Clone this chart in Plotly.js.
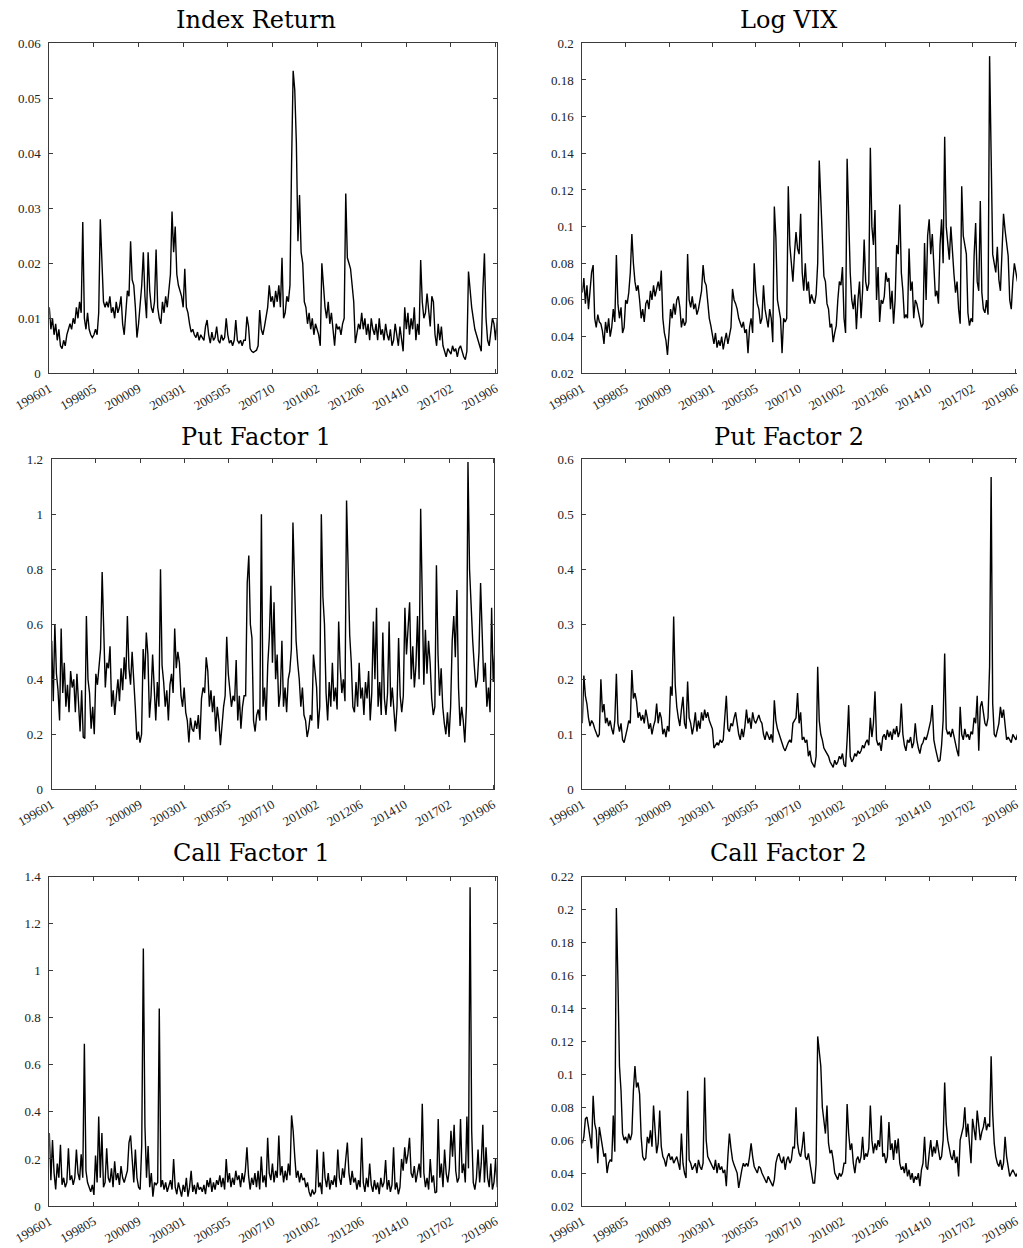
<!DOCTYPE html>
<html>
<head>
<meta charset="utf-8">
<script src="https://cdn.plot.ly/plotly-3.0.1.min.js"></script>
<style>
html, body { margin: 0; padding: 0; overflow: hidden; background: #fff; }
#chart { width: 1023px; height: 1248px; }
</style>
</head>
<body>
<div id="chart"></div>
<script>
// x axis: monthly observation index, 0 = 199601
const xTickVals = [0, 28, 56, 84, 112, 140, 168, 196, 224, 252, 280];
const xTickText = ["199601", "199805", "200009", "200301", "200505", "200710", "201002", "201206", "201410", "201702", "201906"];

const titles = ["Index Return", "Log VIX", "Put Factor 1", "Put Factor 2", "Call Factor 1", "Call Factor 2"];

// monthly values 1996-01 ... 2019-06 (one row per year)
const indexReturn = [
0.012,0.008,0.010,0.007,0.009,0.006,0.008,0.005,0.0045,0.006,0.005,0.007,
0.008,0.009,0.008,0.010,0.009,0.012,0.010,0.013,0.011,0.0275,0.010,0.008,
0.011,0.008,0.007,0.0065,0.007,0.008,0.007,0.011,0.028,0.021,0.013,0.012,
0.013,0.012,0.014,0.011,0.012,0.010,0.013,0.011,0.012,0.014,0.009,0.007,
0.011,0.015,0.014,0.024,0.017,0.016,0.012,0.0065,0.009,0.013,0.016,0.022,
0.014,0.010,0.022,0.015,0.012,0.011,0.013,0.0225,0.012,0.010,0.009,0.013,
0.011,0.014,0.012,0.015,0.018,0.0294,0.022,0.0267,0.018,0.016,0.015,0.014,
0.012,0.019,0.012,0.011,0.009,0.0075,0.008,0.007,0.0065,0.0075,0.006,0.007,
0.0065,0.006,0.0085,0.0097,0.007,0.0055,0.0075,0.006,0.0065,0.0085,0.006,0.0055,
0.007,0.006,0.0065,0.0100,0.007,0.0055,0.006,0.005,0.006,0.0097,0.006,0.0055,
0.006,0.005,0.006,0.006,0.0103,0.0085,0.0045,0.004,0.0038,0.004,0.0042,0.005,
0.0115,0.008,0.007,0.0085,0.010,0.012,0.016,0.013,0.014,0.012,0.015,0.013,
0.016,0.012,0.021,0.010,0.011,0.014,0.013,0.016,0.038,0.055,0.0515,0.042,
0.024,0.0324,0.022,0.020,0.013,0.012,0.009,0.011,0.008,0.010,0.007,0.009,
0.008,0.007,0.005,0.020,0.016,0.012,0.010,0.013,0.009,0.011,0.008,0.005,
0.009,0.008,0.0085,0.007,0.009,0.010,0.0327,0.021,0.020,0.019,0.016,0.013,
0.0055,0.007,0.009,0.008,0.011,0.008,0.010,0.007,0.009,0.006,0.010,0.008,
0.007,0.009,0.006,0.010,0.007,0.008,0.006,0.009,0.007,0.006,0.008,0.005,
0.006,0.009,0.007,0.005,0.0085,0.006,0.004,0.012,0.008,0.011,0.007,0.010,
0.008,0.012,0.006,0.009,0.007,0.0206,0.013,0.010,0.011,0.0145,0.012,0.0085,
0.014,0.013,0.007,0.005,0.009,0.006,0.0085,0.005,0.004,0.003,0.0045,0.004,
0.0035,0.005,0.004,0.0045,0.003,0.0045,0.005,0.004,0.003,0.0025,0.004,0.0185,
0.015,0.012,0.010,0.008,0.007,0.006,0.005,0.004,0.015,0.0218,0.010,0.006,
0.005,0.008,0.010,0.009,0.006,0.010
];

const logVix = [
0.064,0.072,0.058,0.068,0.055,0.065,0.075,0.079,0.050,0.045,0.052,0.048,
0.047,0.043,0.036,0.048,0.042,0.050,0.040,0.045,0.055,0.048,0.0845,0.058,
0.050,0.056,0.042,0.045,0.060,0.058,0.064,0.075,0.096,0.080,0.070,0.065,
0.068,0.060,0.050,0.055,0.048,0.058,0.060,0.055,0.065,0.060,0.068,0.062,
0.066,0.070,0.065,0.076,0.050,0.042,0.038,0.030,0.042,0.055,0.050,0.058,
0.052,0.060,0.062,0.056,0.045,0.050,0.046,0.048,0.085,0.060,0.056,0.062,
0.055,0.058,0.052,0.055,0.060,0.065,0.079,0.070,0.068,0.060,0.050,0.046,
0.040,0.036,0.042,0.034,0.038,0.035,0.040,0.033,0.038,0.042,0.036,0.040,
0.045,0.066,0.060,0.058,0.055,0.050,0.047,0.045,0.048,0.042,0.044,0.031,
0.045,0.050,0.042,0.080,0.065,0.058,0.055,0.047,0.050,0.068,0.055,0.050,
0.045,0.055,0.050,0.037,0.111,0.094,0.060,0.055,0.050,0.031,0.050,0.048,
0.050,0.122,0.090,0.080,0.070,0.085,0.097,0.088,0.085,0.107,0.075,0.065,
0.080,0.065,0.070,0.058,0.063,0.060,0.058,0.063,0.080,0.136,0.115,0.090,
0.073,0.070,0.058,0.055,0.045,0.047,0.037,0.042,0.046,0.060,0.070,0.068,
0.078,0.050,0.042,0.137,0.100,0.075,0.060,0.055,0.063,0.044,0.060,0.070,
0.050,0.065,0.093,0.070,0.065,0.069,0.143,0.100,0.090,0.109,0.060,0.078,
0.048,0.060,0.058,0.062,0.075,0.070,0.072,0.055,0.065,0.047,0.060,0.090,
0.085,0.112,0.075,0.065,0.050,0.052,0.050,0.088,0.065,0.070,0.050,0.060,
0.058,0.053,0.050,0.045,0.047,0.091,0.060,0.095,0.104,0.085,0.096,0.075,
0.062,0.065,0.058,0.090,0.104,0.080,0.149,0.100,0.090,0.082,0.100,0.085,
0.074,0.064,0.070,0.055,0.047,0.122,0.095,0.090,0.085,0.053,0.046,0.050,
0.048,0.084,0.102,0.070,0.065,0.114,0.064,0.055,0.053,0.060,0.052,0.193,
0.129,0.085,0.080,0.075,0.089,0.071,0.065,0.085,0.107,0.098,0.090,0.084,
0.060,0.055,0.070,0.080,0.075,0.070
];

const putFactor1 = [
0.54,0.32,0.60,0.42,0.36,0.25,0.585,0.35,0.46,0.30,0.38,0.28,
0.43,0.37,0.40,0.28,0.42,0.30,0.21,0.36,0.19,0.185,0.63,0.40,
0.35,0.22,0.30,0.20,0.42,0.38,0.46,0.51,0.79,0.55,0.37,0.46,
0.44,0.52,0.30,0.36,0.27,0.34,0.40,0.32,0.44,0.36,0.48,0.40,
0.63,0.44,0.38,0.50,0.37,0.30,0.18,0.21,0.17,0.20,0.51,0.40,
0.57,0.49,0.26,0.34,0.49,0.38,0.25,0.39,0.30,0.80,0.45,0.39,
0.30,0.36,0.25,0.38,0.42,0.35,0.585,0.44,0.50,0.46,0.34,0.30,
0.37,0.28,0.25,0.17,0.26,0.22,0.21,0.25,0.22,0.27,0.18,0.33,
0.37,0.35,0.48,0.43,0.30,0.36,0.28,0.34,0.21,0.30,0.25,0.16,
0.25,0.30,0.34,0.555,0.42,0.37,0.30,0.34,0.32,0.47,0.25,0.34,
0.22,0.30,0.34,0.34,0.75,0.85,0.60,0.55,0.25,0.21,0.27,0.29,
0.25,1.00,0.30,0.37,0.25,0.45,0.55,0.74,0.46,0.68,0.40,0.49,
0.30,0.35,0.54,0.30,0.37,0.28,0.40,0.43,0.51,0.97,0.75,0.54,
0.46,0.40,0.30,0.37,0.27,0.25,0.19,0.22,0.27,0.25,0.49,0.42,
0.37,0.22,0.30,1.00,0.70,0.60,0.35,0.25,0.39,0.30,0.46,0.32,
0.37,0.29,0.61,0.44,0.35,0.40,0.32,1.05,0.73,0.56,0.46,0.30,
0.28,0.39,0.30,0.46,0.33,0.37,0.27,0.39,0.33,0.43,0.25,0.35,
0.61,0.40,0.66,0.30,0.39,0.27,0.57,0.33,0.27,0.35,0.61,0.30,
0.37,0.27,0.21,0.30,0.55,0.34,0.28,0.34,0.66,0.49,0.61,0.68,
0.40,0.52,0.37,0.45,0.63,0.40,1.02,0.66,0.38,0.58,0.42,0.54,
0.46,0.33,0.27,0.30,0.815,0.49,0.34,0.44,0.30,0.24,0.20,0.28,
0.19,0.30,0.54,0.63,0.48,0.725,0.37,0.23,0.30,0.25,0.17,0.30,
1.19,0.80,0.63,0.54,0.45,0.37,0.40,0.50,0.75,0.55,0.39,0.46,
0.30,0.37,0.28,0.66,0.39,0.50
];

const putFactor2 = [
0.12,0.207,0.17,0.155,0.13,0.115,0.125,0.12,0.11,0.10,0.095,0.10,
0.20,0.14,0.155,0.12,0.13,0.115,0.125,0.11,0.10,0.125,0.21,0.12,
0.105,0.12,0.09,0.085,0.095,0.11,0.125,0.12,0.217,0.165,0.175,0.16,
0.13,0.14,0.125,0.135,0.12,0.145,0.13,0.11,0.12,0.10,0.115,0.125,
0.156,0.12,0.14,0.13,0.10,0.11,0.095,0.115,0.105,0.187,0.17,0.314,
0.19,0.15,0.13,0.115,0.145,0.168,0.12,0.11,0.196,0.13,0.12,0.10,
0.115,0.14,0.105,0.125,0.11,0.14,0.125,0.145,0.13,0.14,0.125,0.115,
0.11,0.075,0.08,0.085,0.08,0.09,0.085,0.09,0.13,0.17,0.11,0.105,
0.12,0.115,0.13,0.14,0.12,0.10,0.09,0.11,0.095,0.115,0.145,0.12,
0.13,0.11,0.14,0.125,0.12,0.13,0.135,0.125,0.12,0.10,0.09,0.105,
0.095,0.09,0.10,0.085,0.162,0.125,0.11,0.10,0.09,0.08,0.075,0.07,
0.08,0.085,0.09,0.085,0.12,0.125,0.13,0.175,0.12,0.14,0.09,0.095,
0.085,0.09,0.06,0.07,0.05,0.045,0.04,0.06,0.223,0.125,0.10,0.09,
0.075,0.07,0.065,0.06,0.05,0.045,0.04,0.053,0.045,0.05,0.06,0.055,
0.065,0.045,0.041,0.09,0.153,0.06,0.05,0.055,0.065,0.06,0.07,0.065,
0.07,0.08,0.075,0.085,0.09,0.08,0.13,0.095,0.12,0.178,0.09,0.08,
0.085,0.07,0.095,0.10,0.09,0.108,0.095,0.105,0.09,0.11,0.10,0.115,
0.095,0.105,0.156,0.10,0.08,0.07,0.09,0.085,0.095,0.075,0.085,0.12,
0.09,0.075,0.065,0.08,0.085,0.095,0.09,0.10,0.115,0.125,0.153,0.09,
0.075,0.06,0.05,0.053,0.08,0.125,0.247,0.11,0.10,0.105,0.095,0.11,
0.095,0.08,0.07,0.06,0.15,0.10,0.09,0.11,0.095,0.10,0.09,0.105,
0.10,0.13,0.12,0.17,0.07,0.15,0.16,0.14,0.12,0.115,0.13,0.223,
0.568,0.156,0.10,0.095,0.105,0.12,0.15,0.13,0.145,0.115,0.09,0.095,
0.09,0.085,0.10,0.095,0.09,0.10
];

const callFactor1 = [
0.31,0.11,0.28,0.14,0.07,0.18,0.12,0.26,0.09,0.12,0.08,0.10,
0.245,0.11,0.13,0.09,0.12,0.24,0.14,0.11,0.22,0.12,0.69,0.15,
0.10,0.08,0.06,0.09,0.047,0.215,0.10,0.38,0.12,0.31,0.08,0.10,
0.245,0.12,0.10,0.16,0.08,0.19,0.11,0.14,0.09,0.17,0.12,0.10,
0.13,0.15,0.27,0.30,0.20,0.10,0.24,0.12,0.08,0.07,0.26,1.095,
0.34,0.12,0.255,0.08,0.14,0.04,0.10,0.09,0.10,0.84,0.08,0.11,
0.07,0.10,0.06,0.09,0.11,0.07,0.20,0.08,0.05,0.10,0.07,0.04,
0.09,0.06,0.12,0.04,0.08,0.15,0.06,0.09,0.05,0.10,0.07,0.08,
0.06,0.09,0.05,0.11,0.08,0.12,0.06,0.10,0.07,0.11,0.09,0.13,
0.08,0.12,0.07,0.20,0.10,0.14,0.08,0.12,0.09,0.15,0.11,0.13,
0.08,0.14,0.10,0.15,0.25,0.13,0.07,0.12,0.09,0.14,0.08,0.15,
0.07,0.21,0.10,0.13,0.08,0.29,0.14,0.11,0.18,0.10,0.15,0.12,
0.30,0.13,0.17,0.10,0.15,0.11,0.18,0.13,0.385,0.32,0.21,0.12,
0.15,0.10,0.14,0.11,0.12,0.08,0.10,0.06,0.04,0.07,0.05,0.06,
0.24,0.08,0.10,0.05,0.23,0.12,0.08,0.14,0.07,0.11,0.09,0.13,
0.08,0.24,0.12,0.09,0.16,0.12,0.20,0.27,0.14,0.09,0.15,0.10,
0.12,0.07,0.11,0.08,0.29,0.10,0.06,0.12,0.08,0.18,0.09,0.06,
0.11,0.07,0.10,0.05,0.12,0.08,0.10,0.195,0.07,0.11,0.06,0.09,
0.25,0.07,0.10,0.05,0.08,0.20,0.15,0.25,0.18,0.22,0.29,0.14,
0.12,0.17,0.10,0.14,0.18,0.12,0.435,0.14,0.08,0.12,0.07,0.20,
0.10,0.13,0.055,0.06,0.37,0.12,0.18,0.08,0.24,0.14,0.10,0.16,
0.32,0.21,0.345,0.15,0.10,0.12,0.37,0.14,0.18,0.10,0.38,0.16,
1.355,0.32,0.10,0.07,0.12,0.24,0.10,0.18,0.345,0.10,0.25,0.12,
0.08,0.18,0.07,0.10,0.20,0.08
];

const callFactor2 = [
0.058,0.062,0.073,0.074,0.068,0.062,0.055,0.087,0.070,0.066,0.046,0.068,
0.062,0.056,0.050,0.052,0.040,0.046,0.048,0.047,0.075,0.053,0.201,0.157,
0.105,0.090,0.064,0.060,0.062,0.058,0.064,0.060,0.064,0.090,0.105,0.092,
0.095,0.088,0.062,0.050,0.048,0.049,0.062,0.058,0.066,0.056,0.081,0.066,
0.052,0.058,0.078,0.056,0.050,0.048,0.044,0.050,0.052,0.048,0.050,0.046,
0.048,0.050,0.046,0.042,0.064,0.046,0.040,0.037,0.090,0.048,0.046,0.042,
0.044,0.046,0.040,0.048,0.044,0.042,0.046,0.098,0.060,0.050,0.048,0.046,
0.044,0.042,0.048,0.040,0.046,0.042,0.044,0.040,0.042,0.032,0.050,0.064,
0.055,0.048,0.045,0.042,0.040,0.031,0.038,0.042,0.046,0.044,0.046,0.044,
0.050,0.058,0.050,0.044,0.042,0.040,0.044,0.043,0.040,0.038,0.036,0.034,
0.038,0.036,0.034,0.032,0.036,0.046,0.050,0.052,0.048,0.046,0.050,0.042,
0.048,0.050,0.046,0.048,0.056,0.055,0.080,0.058,0.052,0.050,0.056,0.065,
0.050,0.048,0.052,0.046,0.040,0.034,0.034,0.046,0.123,0.115,0.105,0.080,
0.070,0.064,0.081,0.058,0.052,0.054,0.048,0.040,0.038,0.036,0.040,0.038,
0.040,0.046,0.046,0.082,0.064,0.054,0.058,0.046,0.040,0.048,0.050,0.046,
0.050,0.062,0.048,0.052,0.050,0.055,0.081,0.060,0.052,0.058,0.054,0.060,
0.056,0.075,0.050,0.052,0.046,0.050,0.071,0.054,0.058,0.048,0.060,0.052,
0.061,0.046,0.042,0.044,0.040,0.046,0.038,0.042,0.036,0.040,0.034,0.038,
0.036,0.040,0.032,0.042,0.046,0.062,0.044,0.042,0.052,0.060,0.050,0.056,
0.052,0.060,0.054,0.048,0.050,0.060,0.095,0.070,0.060,0.054,0.050,0.048,
0.054,0.046,0.050,0.038,0.060,0.064,0.068,0.080,0.062,0.070,0.056,0.046,
0.073,0.065,0.060,0.078,0.070,0.060,0.065,0.068,0.074,0.066,0.070,0.068,
0.111,0.076,0.058,0.050,0.046,0.044,0.048,0.042,0.046,0.062,0.050,0.044,
0.038,0.040,0.042,0.040,0.038,0.040
];

// y tick values and labels per panel
const yTicksIndexReturn = [0, 0.01, 0.02, 0.03, 0.04, 0.05, 0.06];
const yLabelsIndexReturn = ["0", "0.01", "0.02", "0.03", "0.04", "0.05", "0.06"];
const yTicksLogVix = [0.02, 0.04, 0.06, 0.08, 0.1, 0.12, 0.14, 0.16, 0.18, 0.2];
const yLabelsLogVix = ["0.02", "0.04", "0.06", "0.08", "0.1", "0.12", "0.14", "0.16", "0.18", "0.2"];
const yTicksPut1 = [0, 0.2, 0.4, 0.6, 0.8, 1, 1.2];
const yLabelsPut1 = ["0", "0.2", "0.4", "0.6", "0.8", "1", "1.2"];
const yTicksPut2 = [0, 0.1, 0.2, 0.3, 0.4, 0.5, 0.6];
const yLabelsPut2 = ["0", "0.1", "0.2", "0.3", "0.4", "0.5", "0.6"];
const yTicksCall1 = [0, 0.2, 0.4, 0.6, 0.8, 1, 1.2, 1.4];
const yLabelsCall1 = ["0", "0.2", "0.4", "0.6", "0.8", "1", "1.2", "1.4"];
const yTicksCall2 = [0.02, 0.04, 0.06, 0.08, 0.1, 0.12, 0.14, 0.16, 0.18, 0.2, 0.22];
const yLabelsCall2 = ["0.02", "0.04", "0.06", "0.08", "0.1", "0.12", "0.14", "0.16", "0.18", "0.2", "0.22"];

const series = [indexReturn, logVix, putFactor1, putFactor2, callFactor1, callFactor2];
const yTicks = [yTicksIndexReturn, yTicksLogVix, yTicksPut1, yTicksPut2, yTicksCall1, yTicksCall2];
const yLabels = [yLabelsIndexReturn, yLabelsLogVix, yLabelsPut1, yLabelsPut2, yLabelsCall1, yLabelsCall2];
const yRanges = [[0, 0.06], [0.02, 0.2], [0, 1.2], [0, 0.6], [0, 1.4], [0.02, 0.22]];

// ---- layout geometry (pixels) ----
const W = 1023, H = 1248;
const colX = [[49.3, 496.7], [582.3, 1017]];
const colXRow2Left = [51.7, 494.3];
const rowY = [[43.3, 373.3], [459.3, 789.3], [876.7, 1206]];
const titleX = [[256, 788], [255.5, 788.5], [251, 788.5]];
const titleY = [20.5, 436.5, 853];

const axisColor = '#3a3a3a';
const tickFont = { family: 'Liberation Serif, Times New Roman, serif', size: 13, color: '#222' };

const traces = [];
const layout = {
  width: W, height: H,
  margin: { l: 0, r: 0, t: 0, b: 0 },
  paper_bgcolor: '#fff', plot_bgcolor: '#fff',
  showlegend: false,
  annotations: []
};

for (let i = 0; i < 6; i++) {
  const row = Math.floor(i / 2), col = i % 2;
  const n = i + 1;
  const xs = series[i].map((_, k) => k);
  traces.push({
    type: 'scatter', mode: 'lines',
    x: xs, y: series[i],
    xaxis: 'x' + (n === 1 ? '' : n), yaxis: 'y' + (n === 1 ? '' : n),
    line: { color: '#000', width: 1.4 },
    hoverinfo: 'skip'
  });
  let xpx = colX[col];
  if (row === 1 && col === 0) xpx = colXRow2Left;
  const ypx = rowY[row];
  const xa = {
    domain: [xpx[0] / W, Math.min(1, xpx[1] / W)],
    range: [0, 280.7],
    anchor: 'y' + (n === 1 ? '' : n),
    tickmode: 'array', tickvals: xTickVals, ticktext: xTickText,
    tickangle: -30,
    showgrid: false, zeroline: false,
    showline: true, linecolor: axisColor, linewidth: 1, mirror: 'ticks',
    ticks: 'inside', ticklen: 4, tickcolor: axisColor,
    tickfont: tickFont, ticklabelstandoff: 2, ticklabeloverflow: 'allow'
  };
  const ya = {
    domain: [1 - ypx[1] / H, 1 - ypx[0] / H],
    range: yRanges[i],
    anchor: 'x' + (n === 1 ? '' : n),
    tickmode: 'array', tickvals: yTicks[i], ticktext: yLabels[i],
    showgrid: false, zeroline: false,
    showline: true, linecolor: axisColor, linewidth: 1,
    mirror: col === 0 ? 'ticks' : false,
    ticks: 'inside', ticklen: 4, tickcolor: axisColor,
    tickfont: tickFont, ticklabelstandoff: 5, ticklabeloverflow: 'allow'
  };
  layout['xaxis' + (n === 1 ? '' : n)] = xa;
  layout['yaxis' + (n === 1 ? '' : n)] = ya;
  layout.annotations.push({
    text: titles[i], xref: 'paper', yref: 'paper',
    x: titleX[row][col] / W, y: 1 - titleY[row] / H,
    xanchor: 'center', yanchor: 'middle', showarrow: false,
    font: { family: 'DejaVu Serif, Liberation Serif, serif', size: 24, color: '#000' }
  });
}

Plotly.newPlot('chart', traces, layout, { displayModeBar: false, staticPlot: true });
</script>
</body>
</html>
